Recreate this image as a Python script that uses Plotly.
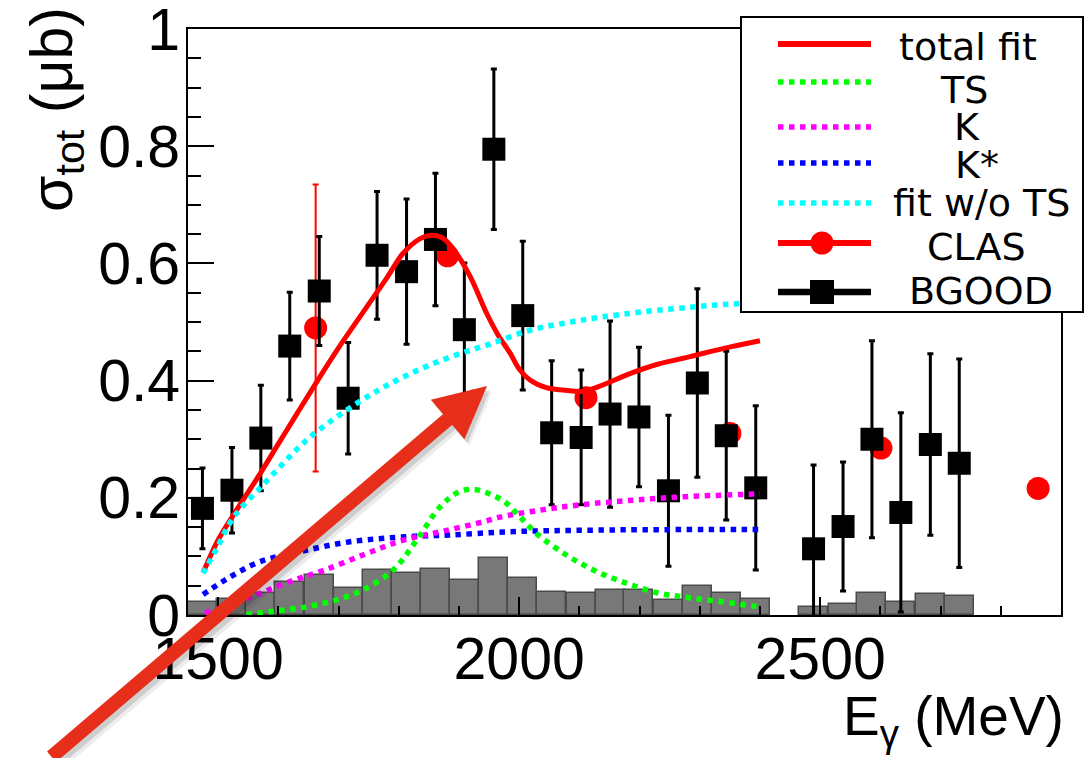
import plotly.graph_objects as go

# ---------------- data ----------------
# BGOOD energy bins (bin centres, MeV) and bin width
bin_E = [1474, 1523, 1571, 1619, 1668, 1716, 1764, 1813, 1861, 1909, 1958, 2006, 2054,
         2103, 2151, 2199, 2248, 2296, 2344, 2393, 2489, 2538, 2586, 2634, 2683, 2731]
bin_width = 48.3

# systematic-uncertainty histogram (grey bars)
syst_sigma = [0.023, 0.027, 0.038, 0.057, 0.068, 0.046, 0.076, 0.072, 0.079, 0.060,
              0.097, 0.063, 0.039, 0.038, 0.043, 0.042, 0.026, 0.049, 0.038, 0.027,
              0.014, 0.019, 0.037, 0.022, 0.036, 0.032]

# BGOOD total cross section (ub) and statistical errors
bgood_sigma = [0.182, 0.213, 0.302, 0.459, 0.553, 0.370, 0.614, 0.586, 0.641, 0.487,
               0.795, 0.511, 0.311, 0.303, 0.343, 0.338, 0.212, 0.396, 0.306, 0.217,
               0.113, 0.151, 0.300, 0.175, 0.291, 0.259]
bgood_err = [0.069, 0.073, 0.090, 0.092, 0.093, 0.095, 0.109, 0.124, 0.113, 0.114,
             0.137, 0.127, 0.123, 0.115, 0.159, 0.119, 0.129, 0.161, 0.144, 0.140,
             0.143, 0.110, 0.168, 0.170, 0.155, 0.178]

# CLAS points
clas_E = [1662, 1881, 2111, 2350, 2601, 2862]
clas_sigma = [0.490, 0.613, 0.371, 0.310, 0.285, 0.216]
clas_err = [0.245, 0.0, 0.0, 0.0, 0.0, 0.0]

# model curves
fit_E = [1475, 1500, 1530, 1569, 1600, 1630, 1662, 1700, 1747, 1780, 1807, 1835, 1856,
         1875, 1896, 1920, 1946, 1965, 1985, 2000, 2018, 2045, 2073, 2107, 2140, 2184,
         2230, 2284, 2340, 2400]
fit_total = [0.072, 0.128, 0.178, 0.240, 0.292, 0.342, 0.395, 0.456, 0.526, 0.575, 0.617,
             0.642, 0.648, 0.642, 0.617, 0.575, 0.515, 0.478, 0.447, 0.420, 0.401, 0.388,
             0.384, 0.382, 0.393, 0.412, 0.428, 0.441, 0.455, 0.468]

nots_E = [1475, 1500, 1519, 1540, 1569, 1600, 1630, 1660, 1697, 1736, 1770, 1807, 1850,
          1896, 1950, 2018, 2080, 2140, 2210, 2281, 2340, 2400]
fit_nots = [0.071, 0.118, 0.156, 0.185, 0.216, 0.250, 0.282, 0.310, 0.338, 0.365, 0.386,
            0.406, 0.426, 0.444, 0.462, 0.486, 0.499, 0.509, 0.518, 0.525, 0.530, 0.533]

ts_E = [1547, 1597, 1647, 1697, 1741, 1791, 1830, 1869, 1900, 1924, 1950, 1976, 2001,
        2029, 2079, 2129, 2179, 2229, 2278, 2334, 2392, 2400]
ts_sigma = [0.001, 0.007, 0.014, 0.026, 0.043, 0.077, 0.128, 0.185, 0.210, 0.2145, 0.207,
            0.193, 0.168, 0.139, 0.102, 0.074, 0.054, 0.038, 0.030, 0.023, 0.015, 0.014]

k_E = [1478, 1520, 1570, 1619, 1675, 1747, 1808, 1874, 1940, 1968, 2035, 2101, 2190,
       2278, 2389, 2400]
k_sigma = [0.003, 0.017, 0.037, 0.057, 0.076, 0.105, 0.128, 0.143, 0.159, 0.167, 0.179,
           0.188, 0.196, 0.202, 0.2065, 0.207]

kst_E = [1475, 1520, 1570, 1636, 1719, 1819, 1885, 1982, 2134, 2394, 2400]
kst_sigma = [0.035, 0.065, 0.091, 0.108, 0.125, 0.134, 0.1365, 0.142, 0.145, 0.146, 0.146]

legend_labels = ["total fit", "TS", "K", "K*", "fit w/o TS", "CLAS", "BGOOD"]

# ---------------- layout geometry (pixels) ----------------
W, H = 1090, 758
ML, MR, MT, MB = 188, 29, 29, 143
PW, PH = W - ML - MR, H - MT - MB


def xp(px):
    return (px - ML) / PW


def yp(py):
    return (H - MB - py) / PH


TICK_FONT = "Liberation Sans, Arial, sans-serif"
LEG_FONT = "DejaVu Sans, sans-serif"

fig = go.Figure()

# grey systematic histogram
fig.add_trace(go.Bar(
    x=bin_E, y=syst_sigma, width=bin_width,
    marker=dict(color="#787878", line=dict(color="#4a4a4a", width=1.5)),
    hoverinfo="skip",
))

# CLAS
fig.add_trace(go.Scatter(
    x=clas_E, y=clas_sigma, mode="markers",
    marker=dict(symbol="circle", size=23, color="#ff0000"),
    error_y=dict(type="data", array=clas_err, color="#ff0000", thickness=2, width=3),
))

# BGOOD
fig.add_trace(go.Scatter(
    x=bin_E, y=bgood_sigma, mode="markers",
    marker=dict(symbol="square", size=23, color="#000000"),
    error_y=dict(type="data", array=bgood_err, color="#000000", thickness=3, width=3),
))

# model curves
fig.add_trace(go.Scatter(x=fit_E, y=fit_total, mode="lines",
                         line=dict(color="#ff0000", width=5, shape="spline")))
fig.add_trace(go.Scatter(x=kst_E, y=kst_sigma, mode="lines",
                         line=dict(color="#0000ff", width=5.5, dash="dot", shape="spline")))
fig.add_trace(go.Scatter(x=k_E, y=k_sigma, mode="lines",
                         line=dict(color="#ff00ff", width=5.5, dash="dot", shape="spline")))
fig.add_trace(go.Scatter(x=ts_E, y=ts_sigma, mode="lines",
                         line=dict(color="#00ff00", width=5.5, dash="dot", shape="spline")))
fig.add_trace(go.Scatter(x=nots_E, y=fit_nots, mode="lines",
                         line=dict(color="#00ffff", width=5.5, dash="dot", shape="spline")))

# ---------------- legend box (drawn by hand) ----------------
shapes = []
annotations = []
shapes.append(dict(type="rect", xref="paper", yref="paper", layer="above",
                   x0=xp(741), x1=xp(1083), y0=yp(312), y1=yp(17),
                   line=dict(color="#000000", width=2), fillcolor="#ffffff"))

rows_y = [44, 82, 127, 163, 203, 243, 292]
text_y = [47, 90, 127, 165, 203, 247, 291]
text_x = [968, 964, 967, 977, 981, 976, 981]
styles = [("#ff0000", "solid", 6), ("#00ff00", "dot", 5.5), ("#ff00ff", "dot", 5.5),
          ("#0000ff", "dot", 5.5), ("#00ffff", "dot", 5.5), ("#ff0000", "solid", 6),
          ("#000000", "solid", 6.5)]
for lab, ry, ty, tx, (col, dash, lw) in zip(legend_labels, rows_y, text_y, text_x, styles):
    shapes.append(dict(type="line", xref="paper", yref="paper", layer="above",
                       x0=xp(778), x1=xp(871), y0=yp(ry), y1=yp(ry),
                       line=dict(color=col, width=lw, dash=dash)))
    annotations.append(dict(xref="paper", yref="paper", x=xp(tx), y=yp(ty),
                            xanchor="center", yanchor="middle", showarrow=False,
                            text=lab, font=dict(family=LEG_FONT, size=38, color="#000000")))

# legend markers
shapes.append(dict(type="circle", xref="paper", yref="paper", layer="above",
                   x0=xp(822 - 11.5), x1=xp(822 + 11.5), y0=yp(243 + 11.5), y1=yp(243 - 11.5),
                   line=dict(width=0), fillcolor="#ff0000"))
shapes.append(dict(type="rect", xref="paper", yref="paper", layer="above",
                   x0=xp(822 - 12), x1=xp(822 + 12), y0=yp(292 + 12), y1=yp(292 - 12),
                   line=dict(width=0), fillcolor="#000000"))

# axis titles
annotations.append(dict(xref="paper", yref="paper", x=xp(1066), y=yp(720),
                        xanchor="right", yanchor="middle", showarrow=False,
                        text="E<sub>γ</sub> (MeV)",
                        font=dict(family=TICK_FONT, size=55, color="#000000")))
annotations.append(dict(xref="paper", yref="paper", x=xp(56), y=yp(110),
                        xanchor="center", yanchor="middle", showarrow=False, textangle=-90,
                        text="σ<sub>tot</sub> (μb)",
                        font=dict(family=TICK_FONT, size=59, color="#000000")))

# pointer arrow with a soft shadow
tip_E, tip_s = 1946.7, 0.391
for dx, dy, col, aw in [(5, -6, "rgba(0,0,0,0.07)", 17),
                        (3, -4, "rgba(0,0,0,0.12)", 15),
                        (0, 0, "#e62e1b", 14)]:
    annotations.append(dict(x=tip_E, y=tip_s, xref="x", yref="y", ax=-437, ay=384,
                            axref="pixel", ayref="pixel", text="", showarrow=True,
                            arrowhead=2, arrowsize=0.74 * 14 / aw, arrowwidth=aw,
                            arrowcolor=col, standoff=0, xshift=dx, yshift=dy))

fig.update_layout(
    width=W, height=H,
    margin=dict(l=ML, r=MR, t=MT, b=MB, pad=0, autoexpand=False),
    paper_bgcolor="#ffffff", plot_bgcolor="#ffffff",
    showlegend=False, bargap=0,
    shapes=shapes, annotations=annotations,
    xaxis=dict(range=[1450, 2900], tick0=1500, dtick=500, ticks="inside", ticklen=18,
               tickwidth=2, tickcolor="#000000", showgrid=False, zeroline=False,
               showline=True, mirror=True, linecolor="#000000", linewidth=2,
               automargin=False,
               tickfont=dict(family=TICK_FONT, size=59, color="#000000"),
               ticklabelstandoff=-9, ticklabeloverflow="allow",
               minor=dict(dtick=100, ticks="inside", ticklen=9, tickwidth=2,
                          tickcolor="#000000")),
    yaxis=dict(range=[0, 1.0002], tick0=0, dtick=0.2, ticks="inside", ticklen=26,
               tickwidth=2, tickcolor="#000000", showgrid=False, zeroline=False,
               showline=True, mirror=True, linecolor="#000000", linewidth=2,
               automargin=False,
               tickfont=dict(family=TICK_FONT, size=59, color="#000000"),
               ticklabelstandoff=-6, ticklabeloverflow="allow",
               minor=dict(dtick=0.05, ticks="inside", ticklen=13, tickwidth=2,
                          tickcolor="#000000")),
)

fig.write_html("out.html")
